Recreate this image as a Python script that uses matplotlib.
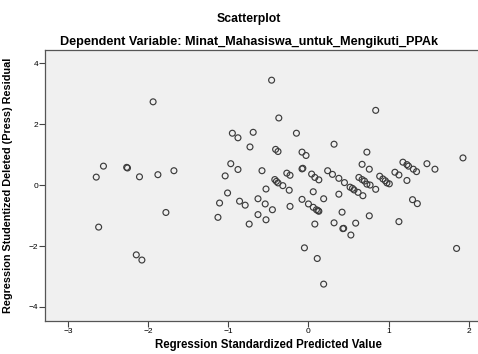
import matplotlib
matplotlib.use("Agg")
from matplotlib import pyplot as plt
import numpy as np

plt.rcParams['font.family'] = ['Liberation Sans', 'DejaVu Sans']

# standardized predicted value (x) and studentized deleted residual (y)
pred = [-1.94, -2.56, -2.65, -2.27, -2.26, -2.11, -1.88, -1.68, -1.78, -2.62,
        -2.15, -2.08, -0.46, -0.37, -0.95, -0.88, -0.69, -0.15, -0.73, -0.41,
        -0.38, -0.08, -0.03, -0.97, -0.88, -1.04, -0.58, -0.27, -0.23, -0.07,
        -0.08, 0.04, 0.08, 0.13, -0.42, -0.40, -0.38, -0.32, -0.24, -0.53,
        0.06, -1.01, -1.11, -0.86, -0.79, -0.63, -0.54, -0.45, -0.23, -0.08,
        0.00, 0.06, 0.10, 0.12, 0.13, -0.63, -0.53, -1.13, -0.74, 0.08,
        -0.05, 0.11, 0.19, 0.32, 0.73, 0.84, 0.67, 0.76, 0.24, 0.30,
        0.38, 0.45, 0.52, 0.55, 0.57, 0.62, 0.68, 0.63, 0.67, 0.70,
        0.73, 0.77, 0.84, 0.89, 0.93, 0.96, 0.98, 1.01, 1.18, 1.23,
        1.25, 1.31, 1.35, 1.08, 1.13, 1.23, 1.48, 1.58, 1.93, 0.19,
        0.38, 0.42, 0.76, 1.30, 1.36, 1.13, 0.32, 0.59, 0.43, 0.44,
        0.53, 1.85]
resid = [2.73, 0.62, 0.26, 0.58, 0.56, 0.27, 0.34, 0.47, -0.90, -1.38,
         -2.29, -2.46, 3.44, 2.20, 1.70, 1.55, 1.73, 1.70, 1.25, 1.17,
         1.10, 1.08, 0.97, 0.70, 0.51, 0.30, 0.47, 0.39, 0.32, 0.55,
         0.53, 0.36, 0.25, 0.17, 0.18, 0.12, 0.07, -0.02, -0.17, -0.13,
         -0.22, -0.26, -0.59, -0.53, -0.66, -0.45, -0.62, -0.81, -0.70, -0.47,
         -0.62, -0.73, -0.81, -0.84, -0.86, -0.97, -1.14, -1.06, -1.28, -1.28,
         -2.06, -2.41, -3.25, 1.34, 1.08, 2.45, 0.68, 0.52, 0.47, 0.35,
         0.22, 0.08, -0.07, -0.11, -0.16, -0.24, -0.35, 0.25, 0.18, 0.13,
         0.03, 0.00, -0.14, 0.29, 0.20, 0.14, 0.07, 0.04, 0.75, 0.67,
         0.62, 0.52, 0.44, 0.42, 0.33, 0.15, 0.70, 0.52, 0.89, -0.45,
         -0.30, -0.89, -1.01, -0.48, -0.61, -1.20, -1.24, -1.25, -1.43, -1.42,
         -1.64, -2.08]

xticks = [-3, -2, -1, 0, 1, 2]
yticks = [-4, -2, 0, 2, 4]

fig = plt.figure(figsize=(4.78, 3.54), dpi=100)
# plot area runs a little past the right edge of the picture
ax = fig.add_axes([45 / 478, 33 / 354, 446 / 478, 271 / 354])
ax.set_facecolor('#f0f0f0')

ax.scatter(pred, resid, s=18, facecolors='none', edgecolors='#3c3c3c',
           linewidths=0.85, zorder=3)

ax.set_xlim(-3.29, 2.28)
ax.set_ylim(-4.46, 4.43)
ax.set_xticks(xticks)
ax.set_yticks(yticks)
ax.tick_params(direction='out', length=4, width=0.8, color='#444444',
               labelsize=6, pad=1)
for s in ax.spines.values():
    s.set_color('#555555')
    s.set_linewidth(0.9)

ax.set_xlabel('Regression Standardized Predicted Value', fontsize=8.3,
              fontweight='bold', labelpad=3)
ax.set_ylabel('Regression Studentized Deleted (Press) Residual', fontsize=7.8,
              fontweight='bold', labelpad=11)

fig.text(249 / 478, 1 - 19 / 354, 'Scatterplot', ha='center', va='center',
         fontsize=8.8, fontweight='bold')
fig.text(249 / 478, 1 - 42 / 354, 'Dependent Variable: Minat_Mahasiswa_untuk_Mengikuti_PPAk',
         ha='center', va='center', fontsize=9.1, fontweight='bold')

fig.savefig('out.png', dpi=100)
